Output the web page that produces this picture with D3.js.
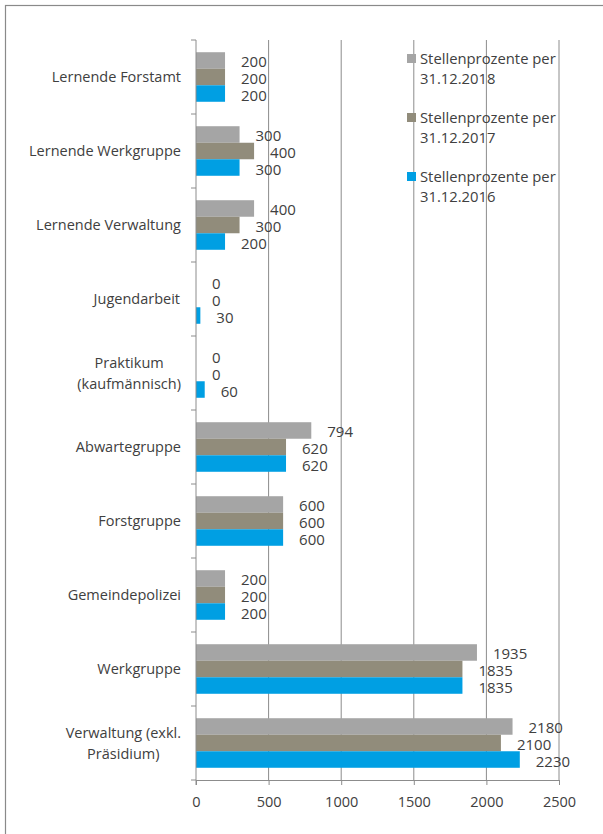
<!DOCTYPE html>
<html>
<head>
<meta charset="utf-8">
<script src="https://cdn.jsdelivr.net/npm/d3@7"></script>
<style>
  body { margin: 0; background: #fff; }
  text { font-family: "Open Sans", Lato, sans-serif; fill: #404040; }
</style>
</head>
<body>
<svg width="603" height="834"></svg>
<script>
const categories = [
  ['Lernende Forstamt'],
  ['Lernende Werkgruppe'],
  ['Lernende Verwaltung'],
  ['Jugendarbeit'],
  ['Praktikum', '(kaufmännisch)'],
  ['Abwartegruppe'],
  ['Forstgruppe'],
  ['Gemeindepolizei'],
  ['Werkgruppe'],
  ['Verwaltung (exkl.', 'Präsidium)'],
];
const values2018 = [200, 300, 400, 0, 0, 794, 600, 200, 1935, 2180];
const values2017 = [200, 400, 300, 0, 0, 620, 600, 200, 1835, 2100];
const values2016 = [200, 300, 200, 30, 60, 620, 600, 200, 1835, 2230];
const seriesNames = [
  ['Stellenprozente per', '31.12.2018'],
  ['Stellenprozente per', '31.12.2017'],
  ['Stellenprozente per', '31.12.2016'],
];
const xTicks = [0, 500, 1000, 1500, 2000, 2500];

const colors = ['#a5a5a5', '#918c7b', '#009fe3'];
const series = [values2018, values2017, values2016];

const svg = d3.select('svg');

// chart frame (right and bottom edges fall outside the picture)
svg.append('rect')
  .attr('x', 5.5).attr('y', 5.5)
  .attr('width', 620).attr('height', 850)
  .style('fill', 'none').style('stroke', '#8a8a8a').style('stroke-width', '1.2px');

const plotL = 196, plotR = 559, plotT = 40, plotB = 780;

const x = d3.scaleLinear().domain([0, 2500]).range([plotL, plotR]);
const y = d3.scaleBand().domain(d3.range(categories.length)).range([plotT, plotB]);
const inner = d3.scaleBand().domain([0, 1, 2]).range([0, y.bandwidth()]).paddingOuter(0.74).paddingInner(0);

// gridlines
svg.selectAll('line.grid')
  .data(xTicks.slice(1))
  .enter().append('line')
  .attr('class', 'grid')
  .attr('x1', d => x(d)).attr('x2', d => x(d))
  .attr('y1', plotT).attr('y2', plotB)
  .style('stroke', '#8c8c8c').style('stroke-width', '1px');

// bars
series.forEach((vals, si) => {
  svg.selectAll(`rect.bar${si}`)
    .data(vals)
    .enter().append('rect')
    .attr('class', `bar${si}`)
    .attr('x', x(0))
    .attr('y', (d, i) => y(i) + inner(si))
    .attr('width', d => x(d) - x(0))
    .attr('height', inner.bandwidth())
    .style('fill', colors[si]);

  svg.selectAll(`text.lab${si}`)
    .data(vals)
    .enter().append('text')
    .attr('class', `lab${si}`)
    .attr('x', d => x(d) + 16)
    .attr('y', (d, i) => y(i) + inner(si) + inner.bandwidth() / 2 + 7)
    .style('font-size', '15px')
    .text(d => d);
});

// left axis with category ticks
svg.append('line')
  .attr('x1', plotL).attr('x2', plotL).attr('y1', plotT).attr('y2', plotB + 5)
  .style('stroke', '#8c8c8c');
svg.selectAll('line.ytick')
  .data(d3.range(categories.length + 1))
  .enter().append('line')
  .attr('class', 'ytick')
  .attr('x1', plotL - 5).attr('x2', plotL)
  .attr('y1', i => plotT + i * y.step()).attr('y2', i => plotT + i * y.step())
  .style('stroke', '#8c8c8c');

// bottom axis
const xAxis = svg.append('g')
  .attr('transform', `translate(0,${plotB})`)
  .call(d3.axisBottom(x).tickValues(xTicks).tickSize(5).tickPadding(12).tickFormat(d3.format('d')));
xAxis.select('.domain').style('stroke', '#8c8c8c');
xAxis.selectAll('.tick line').style('stroke', '#8c8c8c');
xAxis.selectAll('text')
  .style('font-family', '"Open Sans", Lato, sans-serif')
  .style('font-size', '14.5px').style('fill', '#404040');

// category labels
categories.forEach((lines, i) => {
  const cy = y(i) + y.bandwidth() / 2;
  const t = svg.append('text')
    .style('font-size', '14.5px')
    .attr('text-anchor', 'middle');
  lines.forEach((ln, li) => {
    t.append('tspan')
      .attr('x', 0)
      .attr('y', cy + 5 + (li - (lines.length - 1) / 2) * 21)
      .text(ln);
  });
  const w = t.node().getBBox().width;
  t.attr('transform', `translate(${181 - w / 2},0)`);
});

// legend
seriesNames.forEach((lines, si) => {
  const ly = 64 + si * 59;
  svg.append('rect')
    .attr('x', 407).attr('y', ly - 10)
    .attr('width', 9).attr('height', 9)
    .style('fill', colors[si]);
  lines.forEach((ln, li) => {
    svg.append('text')
      .attr('x', 420)
      .attr('y', ly + li * 20)
      .style('font-size', '14.8px')
      .text(ln);
  });
});
</script>
</body>
</html>
